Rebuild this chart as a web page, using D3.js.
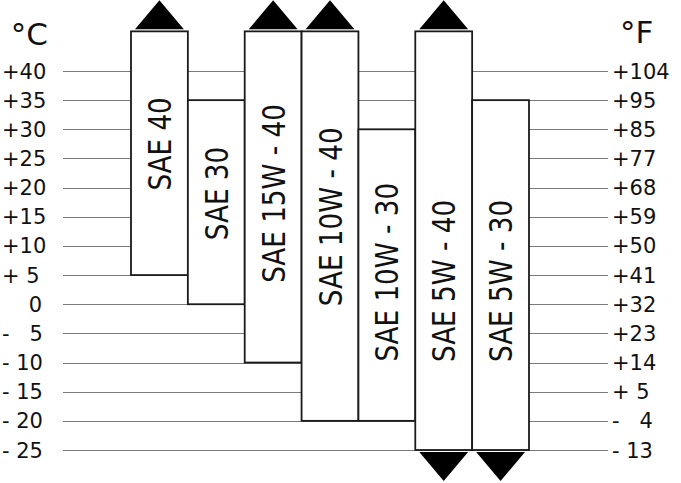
<!DOCTYPE html>
<html>
<head>
<meta charset="utf-8">
<script src="https://cdn.jsdelivr.net/npm/d3@7"></script>
<style>
html,body{margin:0;padding:0;background:#fff;}
svg{display:block;}
text{font-family:"DejaVu Sans",sans-serif;fill:#111;white-space:pre;}
</style>
</head>
<body>
<svg id="chart" width="681" height="483"></svg>
<script>
// ---- data ----
const grades   = ["SAE 40","SAE 30","SAE 15W - 40","SAE 10W - 40","SAE 10W - 30","SAE 5W - 40","SAE 5W - 30"];
const minC     = [5, 0, -10, -20, -20, -25, -25];
const maxC     = [null, 35, null, null, 30, null, 35];   // null = open-ended upward
const openLow  = [false, false, false, false, false, true, true]; // arrow downward
const labelC   = [27.5, 19, 19, 15, 5.5, 4, 4];          // label centre (°C)
const ticksC   = [40,35,30,25,20,15,10,5,0,-5,-10,-15,-20,-25];
const labelsC  = ["+40","+35","+30","+25","+20","+15","+10","+ 5","    0","-   5","- 10","- 15","- 20","- 25"];
const labelsF  = ["+104","+95","+85","+77","+68","+59","+50","+41","+32","+23","+14","+ 5","-   4","- 13"];
const openTopC = 46.8;

// ---- layout ----
const svg = d3.select("#chart");
const y = d3.scaleLinear().domain([-25, 40]).range([450, 71]);
const x = d3.scaleBand().domain(grades).range([131, 529]).padding(0);

// gridlines
svg.append("g").selectAll("line").data(ticksC).join("line")
  .attr("x1", 63).attr("x2", 608)
  .attr("y1", d => Math.round(y(d)) + 0.5).attr("y2", d => Math.round(y(d)) + 0.5)
  .attr("stroke", "#7a7a7a").attr("stroke-width", 1.1);

// left labels
svg.append("g").selectAll("text").data(ticksC).join("text")
  .attr("x", 2).attr("y", d => y(d) + 7.5)
  .attr("font-size", 21)
  .text((d, i) => labelsC[i]);
// right labels
svg.append("g").selectAll("text").data(ticksC).join("text")
  .attr("x", 612).attr("y", d => y(d) + 7.5)
  .attr("font-size", 21)
  .text((d, i) => labelsF[i]);

// unit headers
svg.append("text").attr("x", 48).attr("y", 45).attr("text-anchor", "end")
  .attr("font-size", 31).text("°C");
svg.append("text").attr("x", 620).attr("y", 43).attr("text-anchor", "start")
  .attr("font-size", 31).text("°F");

// bars
const bars = grades.map((g, i) => ({
  g, i,
  lo: minC[i],
  hi: maxC[i] === null ? openTopC : maxC[i],
  openHi: maxC[i] === null,
  openLo: openLow[i]
}));

const bg = svg.append("g");
bg.selectAll("rect").data(bars).join("rect")
  .attr("x", d => x(d.g)).attr("width", x.bandwidth())
  .attr("y", d => y(d.hi)).attr("height", d => y(d.lo) - y(d.hi))
  .attr("fill", "#fff").attr("stroke", "#1a1a1a").attr("stroke-width", 1.8);

// arrows
const inset = 4, triH = 29;
bg.selectAll("path.up").data(bars.filter(d => d.openHi)).join("path")
  .attr("class", "up")
  .attr("d", d => {
    const x0 = x(d.g) + inset, x1 = x(d.g) + x.bandwidth() - inset, b = y(d.hi) - 2;
    return `M${x0},${b}L${(x0 + x1) / 2},${b - triH}L${x1},${b}Z`;
  })
  .attr("fill", "#000");
bg.selectAll("path.down").data(bars.filter(d => d.openLo)).join("path")
  .attr("class", "down")
  .attr("d", d => {
    const x0 = x(d.g) + inset, x1 = x(d.g) + x.bandwidth() - inset, b = y(d.lo) + 2;
    return `M${x0},${b}L${(x0 + x1) / 2},${b + triH}L${x1},${b}Z`;
  })
  .attr("fill", "#000");

// bar labels
bg.selectAll("text").data(bars).join("text")
  .attr("transform", d => `translate(${x(d.g) + x.bandwidth() / 2},${y(labelC[d.i])}) rotate(-90) scale(0.82,1)`)
  .attr("text-anchor", "middle")
  .attr("y", 11.6)
  .attr("font-size", 32)
  .text(d => d.g);
</script>
</body>
</html>
